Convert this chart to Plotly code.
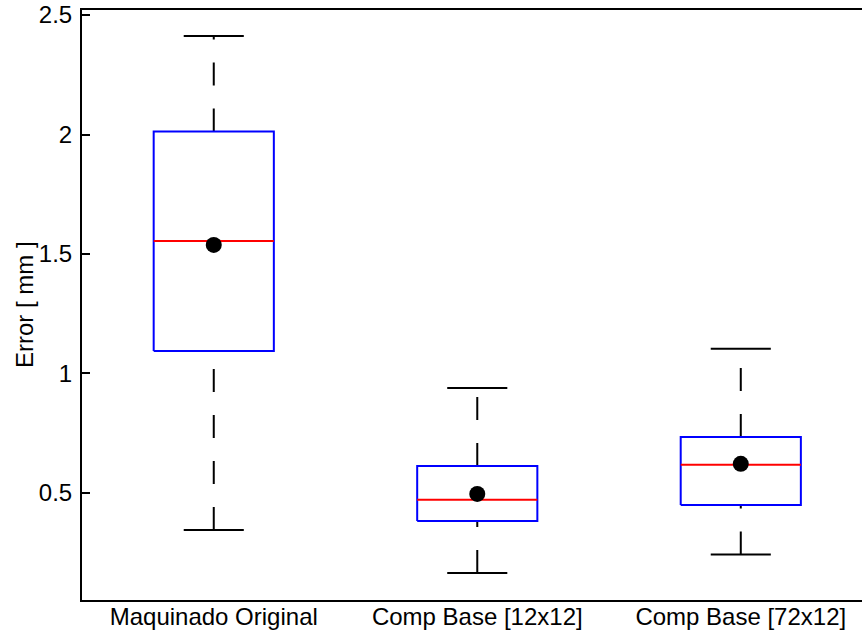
import plotly.graph_objects as go

categories = ["Maquinado Original", "Comp Base [12x12]", "Comp Base [72x12]"]
q1 = [1.094, 0.383, 0.450]
median = [1.554, 0.471, 0.618]
q3 = [2.013, 0.613, 0.734]
lower_whisker = [0.345, 0.165, 0.242]
upper_whisker = [2.412, 0.939, 1.103]
means = [1.538, 0.496, 0.622]
y_ticks = [0.5, 1, 1.5, 2, 2.5]
y_tick_text = ["0.5", "1", "1.5", "2", "2.5"]
y_title = "Error [ mm ]"

positions = [1, 2, 3]
box_half = 0.228
cap_half = 0.114

fig = go.Figure()
for xc, a, m, b, lo, hi in zip(positions, q1, median, q3, lower_whisker, upper_whisker):
    wl = dict(color="black", width=2, dash="23px,23px")
    fig.add_trace(go.Scatter(x=[xc, xc], y=[b, hi], mode="lines", line=wl, hoverinfo="skip"))
    fig.add_trace(go.Scatter(x=[xc, xc], y=[lo, a], mode="lines", line=wl, hoverinfo="skip"))
    cl = dict(color="black", width=2)
    fig.add_trace(go.Scatter(x=[xc - cap_half, xc + cap_half], y=[hi, hi], mode="lines", line=cl, hoverinfo="skip"))
    fig.add_trace(go.Scatter(x=[xc - cap_half, xc + cap_half], y=[lo, lo], mode="lines", line=cl, hoverinfo="skip"))
    fig.add_trace(go.Scatter(x=[xc - box_half, xc + box_half, xc + box_half, xc - box_half, xc - box_half],
                             y=[a, a, b, b, a], mode="lines", line=dict(color="#0000FF", width=2), hoverinfo="skip"))
    fig.add_trace(go.Scatter(x=[xc - box_half, xc + box_half], y=[m, m], mode="lines",
                             line=dict(color="#FF0000", width=2), hoverinfo="skip"))

fig.add_trace(go.Scatter(x=positions, y=means, mode="markers",
                         marker=dict(color="black", size=16, symbol="circle"), hoverinfo="skip"))

fig.update_layout(
    width=862, height=638,
    margin=dict(l=82, r=0, t=10, b=38),
    paper_bgcolor="white", plot_bgcolor="white",
    showlegend=False,
    font=dict(family="Liberation Sans, Arial, sans-serif", size=24, color="black"),
    xaxis=dict(range=[0.5, 3.46], tickvals=positions, ticktext=categories, ticks="",
               showline=True, linecolor="black", linewidth=2, mirror=True, automargin=False,
               showgrid=False, zeroline=False, tickfont=dict(size=24), ticklabelstandoff=-6,
               ticklabeloverflow="allow"),
    yaxis=dict(range=[0.052, 2.521], tickvals=y_ticks, ticktext=y_tick_text,
               ticks="inside", ticklen=8, tickwidth=2, tickcolor="black",
               showline=True, linecolor="black", linewidth=2, mirror=False, automargin=False,
               showgrid=False, zeroline=False, tickfont=dict(size=24), ticklabelstandoff=3,
               ticklabeloverflow="allow"),
    annotations=[dict(text=y_title, textangle=-90, xref="paper", yref="paper",
                      x=-58 / 780, y=0.5, xanchor="center", yanchor="middle",
                      showarrow=False, font=dict(size=24))],
)

fig.write_html("out.html", config={"displayModeBar": False},
               post_script="document.body.style.margin='0';document.body.style.overflow='hidden';")
